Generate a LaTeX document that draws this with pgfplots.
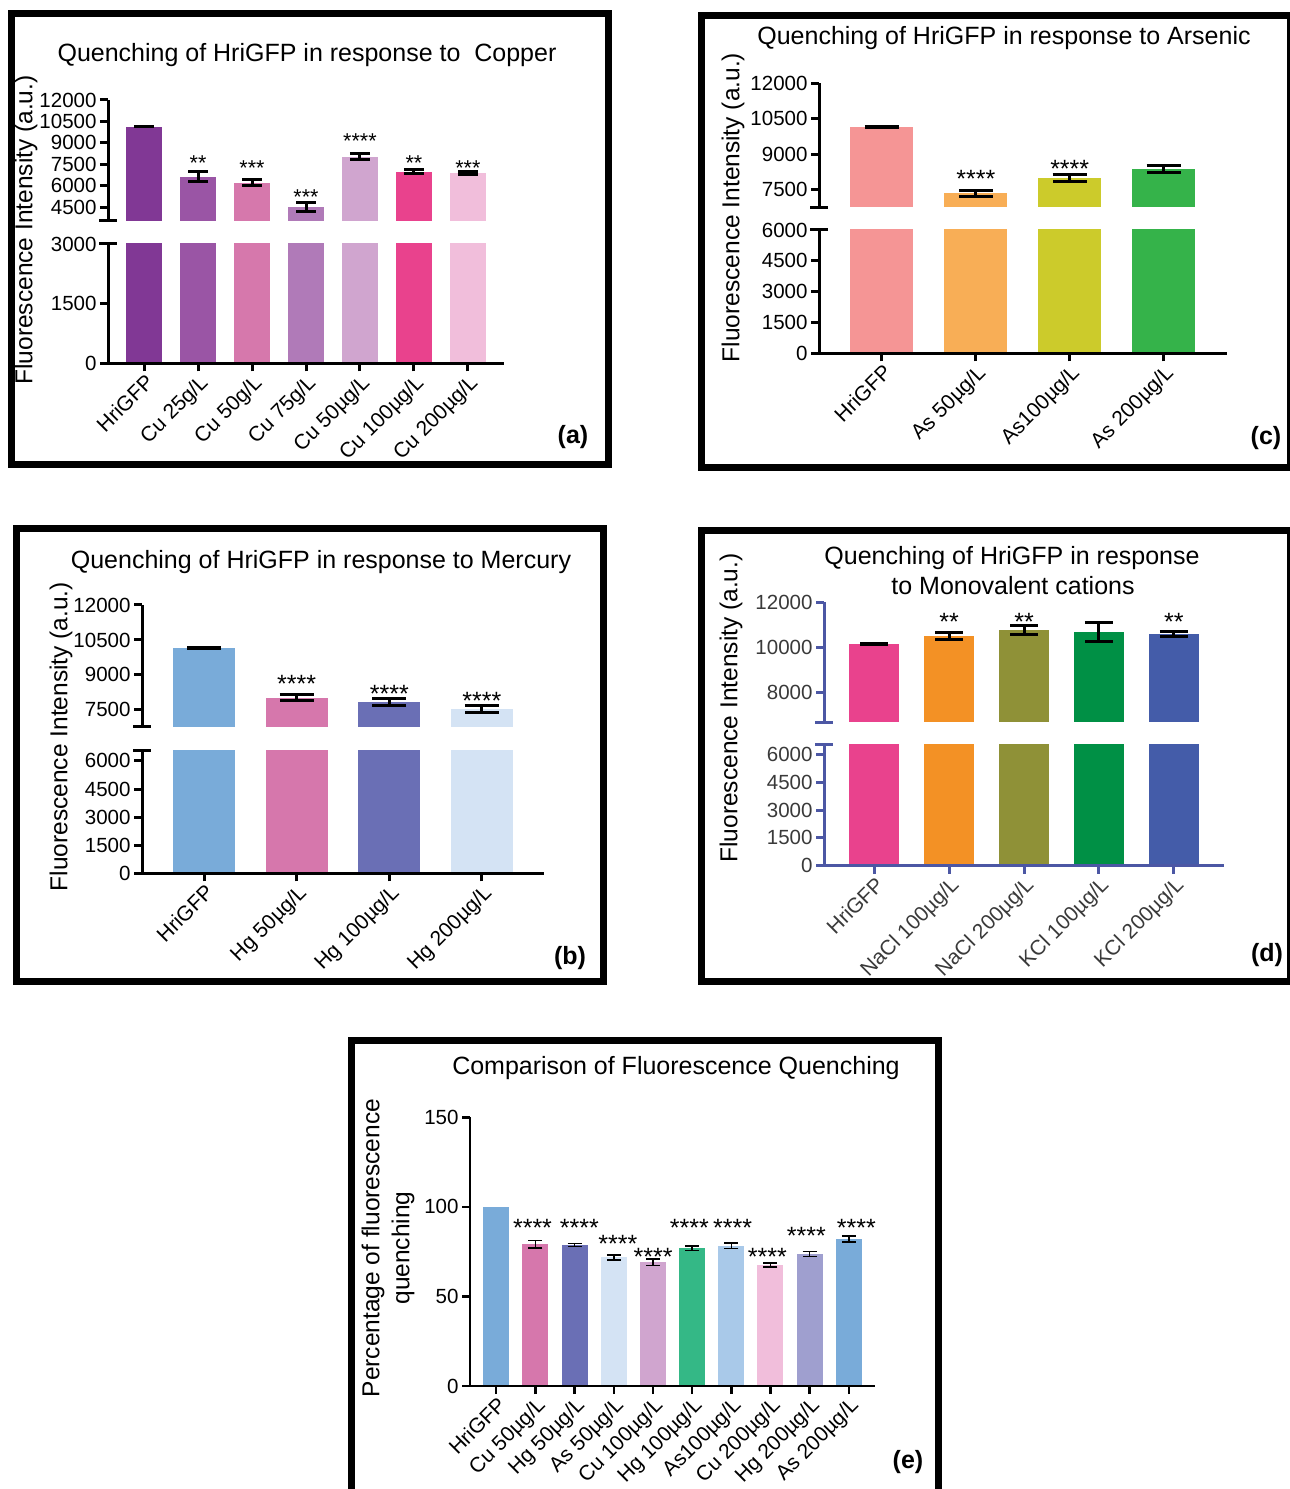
\documentclass[border=0pt]{standalone}
\usepackage{pgfplots}
\pgfplotsset{compat=1.18}
\usepackage{fontspec}
\setmainfont{Liberation Sans}

% panel (a)
\definecolor{a1}{HTML}{813895}
\definecolor{a2}{HTML}{9A55A5}
\definecolor{a3}{HTML}{D678AC}
\definecolor{a4}{HTML}{B07AB8}
\definecolor{a5}{HTML}{D0A5CF}
\definecolor{a6}{HTML}{E9428D}
\definecolor{a7}{HTML}{F1BEDB}
% panel (c)
\definecolor{c1}{HTML}{F59595}
\definecolor{c2}{HTML}{F8AE56}
\definecolor{c3}{HTML}{CCCB2B}
\definecolor{c4}{HTML}{35B34A}
% panel (b)
\definecolor{b1}{HTML}{79ABD9}
\definecolor{b2}{HTML}{D677AC}
\definecolor{b3}{HTML}{6A6FB5}
\definecolor{b4}{HTML}{D4E3F4}
% panel (d)
\definecolor{d1}{HTML}{E9428D}
\definecolor{d2}{HTML}{F39125}
\definecolor{d3}{HTML}{8F9137}
\definecolor{d4}{HTML}{009045}
\definecolor{d5}{HTML}{445CA9}
\definecolor{dax}{HTML}{4C57A4}
\definecolor{dtx}{HTML}{3A3A3A}
% panel (e)
\definecolor{e1}{HTML}{79ABD9}
\definecolor{e2}{HTML}{D677AC}
\definecolor{e3}{HTML}{6A6FB5}
\definecolor{e4}{HTML}{D4E3F4}
\definecolor{e5}{HTML}{D0A5CF}
\definecolor{e6}{HTML}{34B886}
\definecolor{e7}{HTML}{A9C9E9}
\definecolor{e8}{HTML}{F1BEDB}
\definecolor{e9}{HTML}{9F9FCF}
\definecolor{e10}{HTML}{79ABD9}

\newcommand{\ttl}{\fontsize{25}{30}\selectfont}
\newcommand{\yl}{\fontsize{24.5}{30}\selectfont}
\newcommand{\pl}{\fontsize{25}{30}\selectfont\bfseries}

\tikzset{stars/.style={anchor=base, font=\fontsize{25}{30}\selectfont, inner sep=0pt, yshift=-3.2pt},
         starsA/.style={anchor=base, font=\fontsize{21.5}{26}\selectfont, inner sep=0pt, yshift=-1pt}}

\pgfplotsset{
  base/.style={
    scale only axis, axis on top, clip mode=individual,
    ybar, bar shift=0pt,
    axis line style={line width=3pt},
    tick align=outside, major tick length=8pt,
    tick style={line width=3pt, black},
    y tick label style={font=\fontsize{20.5}{24}\selectfont},
    x tick label style={font=\fontsize{21}{25}\selectfont, rotate=45, anchor=north east, inner sep=1pt},
    scaled y ticks=false,
    /pgf/number format/1000 sep={},
    /pgf/number format/assume math mode=true,
    every axis plot/.append style={draw=none},
    enlargelimits=false,
  },
  topseg/.style={base, axis x line=none, axis y line*=left, xtick=\empty,
    error bars/y dir=both, error bars/y explicit,
    error bars/error bar style={line width=3pt, draw=black},
    error bars/error mark options={rotate=90, line width=3pt, draw=black, mark size=#1},
  },
  botseg/.style={base, axis x line*=bottom, axis y line*=left},
}

\begin{document}
\begin{tikzpicture}[x=1pt,y=1pt]
\path[use as bounding box, fill=white] (0,0) rectangle (1290,1489);

% ---------- frames ----------
\draw[line width=7pt] (11.5,1475.5) rectangle (608.5,1024.5);
\draw[line width=7pt] (701.5,1473.5) rectangle (1290,1021.5);
\draw[line width=7pt] (16.5,960.5) rectangle (603.5,507.5);
\draw[line width=7pt] (701.5,958.5) rectangle (1290,507.5);
\draw[line width=7pt] (351.5,448.5) rectangle (938.5,-20);

% ================= PANEL (a) =================
\node[font=\ttl, anchor=base] at (307,1427) {Quenching of HriGFP in response to\ \ Copper};
\node[font=\yl, rotate=90] at (26,1259) {Fluorescence Intensity (a.u.)};
\node[font=\pl] at (573,1052) {(a)};

\begin{axis}[topseg=10pt, at={(108pt,1268pt)}, anchor=south west, width=396pt, height=121pt,
  xmin=-0.67, xmax=6.67, ymin=3540, ymax=12000,
  ytick={4500,6000,7500,9000,10500,12000}, bar width=36pt]
\addplot[fill=a1] coordinates {(0,10140) +- (0,20)};
\addplot[fill=a2] coordinates {(1,6640) +- (0,350)};
\addplot[fill=a3] coordinates {(2,6220) +- (0,225)};
\addplot[fill=a4] coordinates {(3,4520) +- (0,315)};
\addplot[fill=a5] coordinates {(4,8040) +- (0,210)};
\addplot[fill=a6] coordinates {(5,6990) +- (0,160)};
\addplot[fill=a7] coordinates {(6,6880) +- (0,100)};
\node[starsA] at (axis cs:1,7128) {**};
\node[starsA] at (axis cs:2,6779) {***};
\node[starsA] at (axis cs:3,4794) {***};
\node[starsA] at (axis cs:4,8687) {****};
\node[starsA] at (axis cs:5,7128) {**};
\node[starsA] at (axis cs:6,6779) {***};
\draw[line width=3pt] ([xshift=-9pt]rel axis cs:0,0) -- ([xshift=9pt]rel axis cs:0,0);
\end{axis}

\begin{axis}[botseg, at={(108pt,1125.7pt)}, anchor=south west, width=396pt, height=119.3pt,
  xmin=-0.67, xmax=6.67, ymin=0, ymax=3000,
  ytick={0,1500,3000}, bar width=36pt,
  xtick={0,...,6},
  xticklabels={HriGFP,Cu 25g/L,Cu 50g/L,Cu 75g/L,Cu 50µg/L,Cu 100µg/L,Cu 200µg/L}]
\addplot[fill=a1] coordinates {(0,10140)};
\addplot[fill=a2] coordinates {(1,6640)};
\addplot[fill=a3] coordinates {(2,6220)};
\addplot[fill=a4] coordinates {(3,4520)};
\addplot[fill=a5] coordinates {(4,8040)};
\addplot[fill=a6] coordinates {(5,6990)};
\addplot[fill=a7] coordinates {(6,6880)};
\draw[line width=3pt] ([xshift=-9pt]rel axis cs:0,1) -- ([xshift=9pt]rel axis cs:0,1);
\end{axis}

% ================= PANEL (c) =================
\node[font=\ttl, anchor=base] at (1004,1444.7) {Quenching of HriGFP in response to Arsenic};
\node[font=\yl, rotate=90] at (733,1281.5) {Fluorescence Intensity (a.u.)};
\node[font=\pl] at (1266,1051) {(c)};

\begin{axis}[topseg=17pt, at={(819pt,1281.7pt)}, anchor=south west, width=407.5pt, height=124pt,
  xmin=-0.67, xmax=3.67, ymin=6740, ymax=12000,
  ytick={7500,9000,10500,12000}, bar width=63pt]
\addplot[fill=c1] coordinates {(0,10130) +- (0,20)};
\addplot[fill=c2] coordinates {(1,7330) +- (0,127)};
\addplot[fill=c3] coordinates {(2,7990) +- (0,142)};
\addplot[fill=c4] coordinates {(3,8350) +- (0,155)};
\node[stars] at (axis cs:1,7700) {****};
\node[stars] at (axis cs:2,8145) {****};
\draw[line width=3pt] ([xshift=-9pt]rel axis cs:0,0) -- ([xshift=9pt]rel axis cs:0,0);
\end{axis}

\begin{axis}[botseg, at={(819pt,1135.7pt)}, anchor=south west, width=407.5pt, height=123.3pt,
  xmin=-0.67, xmax=3.67, ymin=0, ymax=6000,
  ytick={0,1500,3000,4500,6000}, bar width=63pt,
  xtick={0,...,3},
  xticklabels={HriGFP,As 50µg/L,As100µg/L,As 200µg/L}]
\addplot[fill=c1] coordinates {(0,10130)};
\addplot[fill=c2] coordinates {(1,7330)};
\addplot[fill=c3] coordinates {(2,7990)};
\addplot[fill=c4] coordinates {(3,8350)};
\draw[line width=3pt] ([xshift=-9pt]rel axis cs:0,1) -- ([xshift=9pt]rel axis cs:0,1);
\end{axis}

% ================= PANEL (b) =================
\node[font=\ttl, anchor=base] at (321,920.7) {Quenching of HriGFP in response to Mercury};
\node[font=\yl, rotate=90] at (61,752.3) {Fluorescence Intensity (a.u.)};
\node[font=\pl] at (570,531) {(b)};

\begin{axis}[topseg=17pt, at={(142pt,762.3pt)}, anchor=south west, width=402pt, height=121.7pt,
  xmin=-0.67, xmax=3.67, ymin=6780, ymax=12000,
  ytick={7500,9000,10500,12000}, bar width=62pt]
\addplot[fill=b1] coordinates {(0,10140) +- (0,20)};
\addplot[fill=b2] coordinates {(1,8030) +- (0,114)};
\addplot[fill=b3] coordinates {(2,7830) +- (0,143)};
\addplot[fill=b4] coordinates {(3,7540) +- (0,143)};
\node[stars] at (axis cs:1,8370) {****};
\node[stars] at (axis cs:2,7967) {****};
\node[stars] at (axis cs:3,7654) {****};
\draw[line width=3pt] ([xshift=-9pt]rel axis cs:0,0) -- ([xshift=9pt]rel axis cs:0,0);
\end{axis}

\begin{axis}[botseg, at={(142pt,615.7pt)}, anchor=south west, width=402pt, height=122.3pt,
  xmin=-0.67, xmax=3.67, ymin=0, ymax=6530,
  ytick={0,1500,3000,4500,6000}, bar width=62pt,
  xtick={0,...,3},
  xticklabels={HriGFP,Hg 50µg/L,Hg 100µg/L,Hg 200µg/L}]
\addplot[fill=b1] coordinates {(0,10140)};
\addplot[fill=b2] coordinates {(1,8030)};
\addplot[fill=b3] coordinates {(2,7830)};
\addplot[fill=b4] coordinates {(3,7540)};
\draw[line width=3pt] ([xshift=-9pt]rel axis cs:0,1) -- ([xshift=9pt]rel axis cs:0,1);
\end{axis}

% ================= PANEL (d) =================
\node[font=\ttl, anchor=base] at (1012,924) {Quenching of HriGFP in response};
\node[font=\ttl, anchor=base] at (1013,894) {to Monovalent cations};
\node[font=\yl, rotate=90] at (731,781) {Fluorescence Intensity (a.u.)};
\node[font=\pl] at (1267,534) {(d)};

\begin{axis}[topseg=14pt, at={(824pt,766.7pt)}, anchor=south west, width=400pt, height=120pt,
  xmin=-0.67, xmax=4.67, ymin=6690, ymax=12000,
  axis line style={draw=dax}, tick style={draw=dax},
  y tick label style={text=dtx},
  ytick={8000,10000,12000}, bar width=50pt]
\addplot[fill=d1] coordinates {(0,10160) +- (0,20)};
\addplot[fill=d2] coordinates {(1,10510) +- (0,142)};
\addplot[fill=d3] coordinates {(2,10770) +- (0,200)};
\addplot[fill=d4] coordinates {(3,10670) +- (0,420)};
\addplot[fill=d5] coordinates {(4,10600) +- (0,110)};
\node[stars] at (axis cs:1,10889) {**};
\node[stars] at (axis cs:2,10889) {**};
\node[stars] at (axis cs:4,10889) {**};
\draw[line width=3pt, dax] ([xshift=-9pt]rel axis cs:0,0) -- ([xshift=9pt]rel axis cs:0,0);
\end{axis}

\begin{axis}[botseg, at={(824pt,623.3pt)}, anchor=south west, width=400pt, height=121.4pt,
  xmin=-0.67, xmax=4.67, ymin=0, ymax=6540,
  axis line style={draw=dax}, tick style={draw=dax},
  y tick label style={text=dtx}, x tick label style={text=dtx},
  ytick={0,1500,3000,4500,6000}, bar width=50pt,
  xtick={0,...,4},
  xticklabels={HriGFP,NaCl 100µg/L,NaCl 200µg/L,KCl 100µg/L,KCl 200µg/L}]
\addplot[fill=d1] coordinates {(0,10160)};
\addplot[fill=d2] coordinates {(1,10510)};
\addplot[fill=d3] coordinates {(2,10770)};
\addplot[fill=d4] coordinates {(3,10670)};
\addplot[fill=d5] coordinates {(4,10600)};
\draw[line width=3pt, dax] ([xshift=-9pt]rel axis cs:0,1) -- ([xshift=9pt]rel axis cs:0,1);
\end{axis}

% ================= PANEL (e) =================
\node[font=\ttl, anchor=base] at (676,414) {Comparison of Fluorescence Quenching};
\node[font=\yl, rotate=90, align=center] at (388,241) {Percentage of fluorescence\\quenching};
\node[font=\pl] at (908,27) {(e)};

\begin{axis}[base, axis x line*=bottom, axis y line*=left,
  at={(470pt,103pt)}, anchor=south west, width=405pt, height=268.7pt,
  axis line style={line width=2.5pt}, tick style={line width=2.5pt},
  xmin=-0.67, xmax=9.67, ymin=0, ymax=150,
  ytick={0,50,100,150}, bar width=26pt,
  xtick={0,...,9},
  xticklabels={HriGFP,Cu 50µg/L,Hg 50µg/L,As 50µg/L,Cu 100µg/L,Hg 100µg/L,As100µg/L,Cu 200µg/L,Hg 200µg/L,As 200µg/L},
  error bars/y dir=both, error bars/y explicit,
  error bars/error bar style={line width=1.5pt, draw=black},
  error bars/error mark options={rotate=90, line width=1.5pt, draw=black, mark size=7pt}]
\addplot[fill=e1] coordinates {(0,100)};
\addplot[fill=e2] coordinates {(1,79.1) +- (0,2.1)};
\addplot[fill=e3] coordinates {(2,78.7) +- (0,0.9)};
\addplot[fill=e4] coordinates {(3,71.8) +- (0,1.4)};
\addplot[fill=e5] coordinates {(4,69.0) +- (0,1.8)};
\addplot[fill=e6] coordinates {(5,76.9) +- (0,1.3)};
\addplot[fill=e7] coordinates {(6,78.3) +- (0,1.6)};
\addplot[fill=e8] coordinates {(7,67.5) +- (0,1.1)};
\addplot[fill=e9] coordinates {(8,73.7) +- (0,1.5)};
\addplot[fill=e10] coordinates {(9,82.1) +- (0,1.6)};
\node[stars, xshift=-2.9pt] at (axis cs:1,85.4) {****};
\node[stars, xshift=4.7pt] at (axis cs:2,85.4) {****};
\node[stars, xshift=4.1pt] at (axis cs:3,76.1) {****};
\node[stars, xshift=0.2pt] at (axis cs:4,69.2) {****};
\node[stars, xshift=-2.8pt] at (axis cs:5,85.4) {****};
\node[stars, xshift=1.3pt] at (axis cs:6,85.4) {****};
\node[stars, xshift=-3.1pt] at (axis cs:7,69.2) {****};
\node[stars, xshift=-3.3pt] at (axis cs:8,80.7) {****};
\node[stars, xshift=7.6pt] at (axis cs:9,85.4) {****};
\end{axis}
\end{tikzpicture}
\end{document}
